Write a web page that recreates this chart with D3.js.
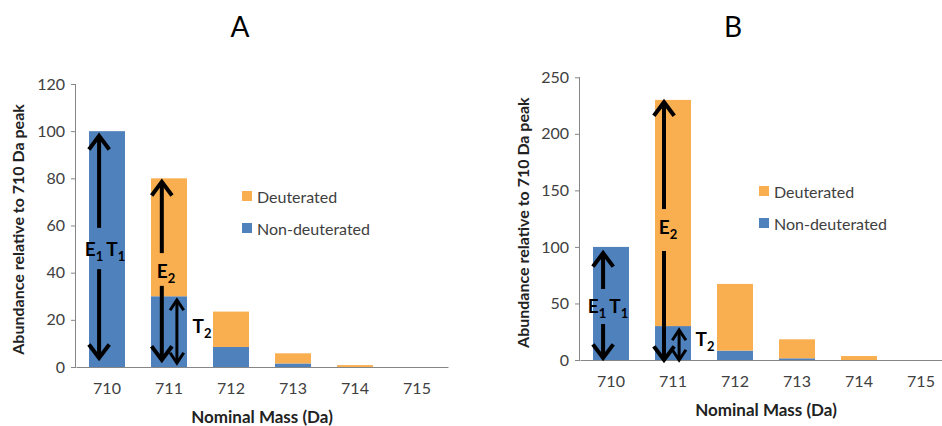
<!DOCTYPE html>
<html>
<head>
<meta charset="utf-8">
<script src="https://cdn.jsdelivr.net/npm/d3@7/dist/d3.min.js"></script>
<style>
  html, body { margin: 0; padding: 0; background: #fff; }
  svg { display: block; font-family: Lato, "Open Sans", sans-serif; }
</style>
</head>
<body>
<svg id="chart" width="942" height="426"></svg>
<script>
// ---------------- data ----------------
const categories = ["710", "711", "712", "713", "714", "715"];
const seriesNames = ["Non-deuterated", "Deuterated"];
const nonDeutA = [100, 30, 8.5, 1.5, 0, 0];
const deutA    = [0, 50, 15, 4.3, 0.8, 0];
const nonDeutB = [100, 30, 8.3, 1.5, 0, 0];
const deutB    = [0, 200, 59, 16.8, 3.5, 0];
const yTicksA = [0, 20, 40, 60, 80, 100, 120];
const yTicksB = [0, 50, 100, 150, 200, 250];
const panelTitles = ["A", "B"];
const xTitle = "Nominal Mass (Da)";
const yTitle = "Abundance relative to 710 Da peak";

// annotation arrows (category, position across bar 0..1, from value, to value, type)
const arrowsA = [
  {cat: "710", f: 0.28, from: 59, to: 98, head: "end"},
  {cat: "710", f: 0.28, from: 41.5, to: 3.8, head: "end"},
  {cat: "711", f: 0.30, from: 48.3, to: 78.5, head: "end"},
  {cat: "711", f: 0.30, from: 34.4, to: 3, head: "end"},
  {cat: "711", f: 0.72, from: 1.7, to: 28.4, head: "both", small: true}
];
const labelsA = [
  {cat: "710", dx: -2, y: 49.6, main: ["E", "T"], sub: ["1", "1"]},
  {cat: "711", dx: -3, y: 40.3, main: ["E"], sub: ["2"]},
  {cat: "711", dx: 33, y: 17, main: ["T"], sub: ["2"]}
];
const arrowsB = [
  {cat: "710", f: 0.28, from: 62.8, to: 94.6, head: "end"},
  {cat: "710", f: 0.28, from: 31.8, to: 1.8, head: "end"},
  {cat: "711", f: 0.25, from: 133.5, to: 228, head: "end"},
  {cat: "711", f: 0.25, from: 96.4, to: 0, head: "end"},
  {cat: "711", f: 0.67, from: 0, to: 26.5, head: "both", small: true}
];
const labelsB = [
  {cat: "710", dx: -3, y: 46.9, main: ["E", "T"], sub: ["1", "1"]},
  {cat: "711", dx: -5, y: 116.7, main: ["E"], sub: ["2"]},
  {cat: "711", dx: 32, y: 17.7, main: ["T"], sub: ["2"]}
];

const colors = {"Non-deuterated": "#4f81bd", "Deuterated": "#f9ae4f"};
const axisColor = "#868686";
const textColor = "#404040";

const svg = d3.select("#chart");

const panels = [
  {title: panelTitles[0], left: 76, top: 84, bottom: 367, width: 372, ticks: yTicksA,
   non: nonDeutA, deut: deutA, arrows: arrowsA, labels: labelsA,
   titleX: 240, yTitleX: 17, legendX: 242, legendY: 196},
  {title: panelTitles[1], left: 580, top: 77.3, bottom: 360, width: 372, ticks: yTicksB,
   non: nonDeutB, deut: deutB, arrows: arrowsB, labels: labelsB,
   titleX: 733, yTitleX: 522, legendX: 759, legendY: 191}
];

function drawArrowHead(g, x, y, dir, w, len, sw) {
  g.append("path")
    .attr("d", `M${x - w},${y - dir * len} L${x},${y} L${x + w},${y - dir * len}`)
    .attr("fill", "none").attr("stroke", "#000")
    .attr("stroke-width", sw).attr("stroke-linejoin", "miter").attr("stroke-linecap", "square");
}

panels.forEach(p => {
  const g = svg.append("g");
  const x = d3.scaleBand().domain(categories).range([p.left, p.left + p.width]).paddingInner(0.42).paddingOuter(0.21);
  const y = d3.scaleLinear().domain([0, p.ticks[p.ticks.length - 1]]).range([p.bottom, p.top]);

  const table = categories.map((c, i) => ({cat: c, "Non-deuterated": p.non[i], "Deuterated": p.deut[i]}));
  const stacked = d3.stack().keys(seriesNames)(table);

  stacked.forEach(layer => {
    g.append("g").selectAll("rect").data(layer).join("rect")
      .attr("x", d => x(d.data.cat))
      .attr("width", x.bandwidth())
      .attr("y", d => y(d[1]))
      .attr("height", d => Math.max(0, y(d[0]) - y(d[1])))
      .attr("fill", colors[layer.key]);
  });

  const yAxis = g.append("g").attr("transform", `translate(${p.left},0)`)
    .call(d3.axisLeft(y).tickValues(p.ticks).tickSize(5).tickPadding(6).tickFormat(d3.format("d")));
  yAxis.select(".domain").attr("stroke", axisColor).attr("d", `M-0.5,${p.bottom}V${p.top}`);
  yAxis.selectAll(".tick line").attr("stroke", axisColor);
  yAxis.selectAll(".tick text").attr("fill", textColor).style("font-size", "16px").style("font-family", "Lato, sans-serif");

  const xAxis = g.append("g").attr("transform", `translate(0,${p.bottom})`)
    .call(d3.axisBottom(x).tickSize(0).tickPadding(16));
  xAxis.select(".domain").attr("stroke", axisColor);
  xAxis.selectAll(".tick text").attr("fill", textColor).style("font-size", "16px").style("font-family", "Lato, sans-serif");

  g.append("text").attr("x", p.titleX).attr("y", 37).attr("text-anchor", "middle")
    .style("font-size", "28px").attr("fill", "#000").text(p.title);
  g.append("text").attr("x", p.left + p.width * 0.5).attr("y", p.bottom + 56)
    .attr("text-anchor", "middle").style("font-size", "17px").style("font-weight", "bold")
    .attr("fill", "#222").text(xTitle);
  g.append("text")
    .attr("transform", `translate(${p.yTitleX},${(p.top + p.bottom) / 2 + 4}) rotate(-90)`)
    .attr("text-anchor", "middle").attr("dominant-baseline", "central")
    .style("font-size", "16px").style("font-weight", "bold").attr("fill", "#222").text(yTitle);

  const legendItems = ["Deuterated", "Non-deuterated"];
  legendItems.forEach((k, i) => {
    const ly = p.legendY + i * 32;
    g.append("rect").attr("x", p.legendX).attr("y", ly - 5).attr("width", 10).attr("height", 10).attr("fill", colors[k]);
    g.append("text").attr("x", p.legendX + 15).attr("y", ly).attr("dominant-baseline", "central")
      .style("font-size", "16px").attr("fill", textColor).text(k);
  });

  const ag = g.append("g");
  p.arrows.forEach(a => {
    const ax = x(a.cat) + a.f * x.bandwidth();
    const y1 = y(a.from), y2 = y(a.to);
    const sw = a.small ? 3 : 4;
    const w = a.small ? 6 : 9;
    const len = a.small ? 9 : 12;
    ag.append("line").attr("x1", ax).attr("x2", ax).attr("y1", y1).attr("y2", y2)
      .attr("stroke", "#000").attr("stroke-width", sw);
    const dir = y2 > y1 ? 1 : -1;
    drawArrowHead(ag, ax, y2, dir, w, len, sw);
    if (a.head === "both") drawArrowHead(ag, ax, y1, -dir, w, len, sw);
  });

  p.labels.forEach(l => {
    const t = g.append("text")
      .attr("x", x(l.cat) + x.bandwidth() / 2 + l.dx).attr("y", y(l.y) + 6)
      .attr("text-anchor", "middle").style("font-size", "19px").style("font-weight", "bold").attr("fill", "#000");
    l.main.forEach((m, i) => {
      t.append("tspan").attr("dx", i > 0 ? 3 : 0).attr("dy", i > 0 ? -5 : 0).text(m);
      t.append("tspan").attr("dy", 5).style("font-size", "13px").text(l.sub[i]);
    });
  });
});
</script>
</body>
</html>
